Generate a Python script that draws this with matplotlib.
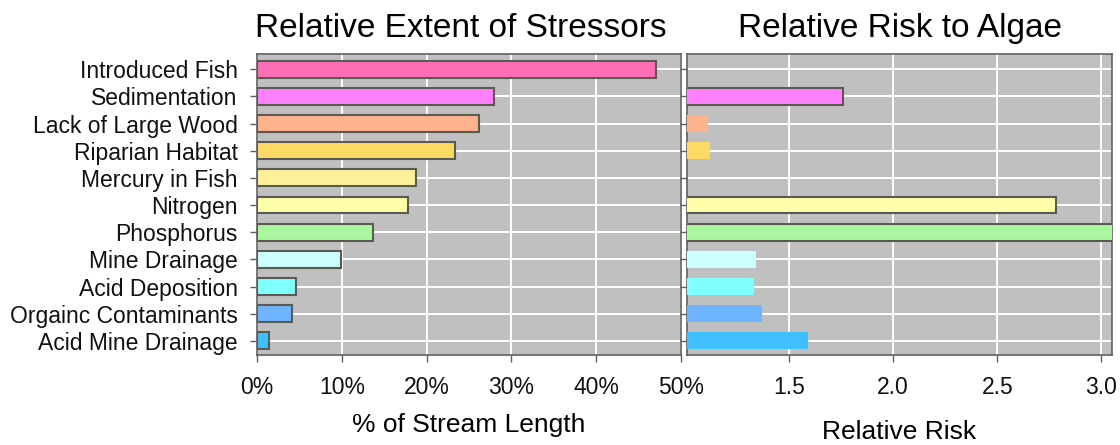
import numpy as np
import matplotlib
matplotlib.use("Agg")
import matplotlib.pyplot as plt

plt.rcParams['font.family'] = ['Liberation Sans', 'DejaVu Sans']

categories = ["Introduced Fish", "Sedimentation", "Lack of Large Wood", "Riparian Habitat",
              "Mercury in Fish", "Nitrogen", "Phosphorus", "Mine Drainage",
              "Acid Deposition", "Orgainc Contaminants", "Acid Mine Drainage"]
extent_pct = [47.0, 28.0, 26.2, 23.3, 18.8, 17.8, 13.7, 9.9, 4.6, 4.1, 1.4]
relative_risk = [np.nan, 1.76, 1.11, 1.12, np.nan, 2.78, 3.6, 1.34, 1.33, 1.37, 1.59]
extent_ticks = [0, 10, 20, 30, 40, 50]
extent_ticklabels = ["0%", "10%", "20%", "30%", "40%", "50%"]
risk_ticks = [1.5, 2.0, 2.5, 3.0]
risk_ticklabels = ["1.5", "2.0", "2.5", "3.0"]

colors = ["#FF6EB4", "#FF80FF", "#FFB38C", "#FFD966", "#FFF09A", "#FFFFAA",
          "#AAF7A0", "#CCFFFF", "#80FFFF", "#6EB4FF", "#40BFFF"]
risk_outlined = [False, True, False, False, False, True, True, False, False, False, False]

W, H = 1120, 445
fig = plt.figure(figsize=(W / 100, H / 100), dpi=100)
bottom = (H - 355) / H
height = (355 - 54) / H
ax1 = fig.add_axes([257 / W, bottom, (681 - 257) / W, height])
ax2 = fig.add_axes([687 / W, bottom, (1112 - 687) / W, height])

bg = "#C0C0C0"
spine_c = "#606060"
edge_c = "#5A5A52"
y = np.arange(len(categories))
bar_h = 0.62

for ax in (ax1, ax2):
    ax.set_facecolor(bg)
    ax.set_axisbelow(True)
    ax.grid(True, color="white", linewidth=1.4)
    for s in ax.spines.values():
        s.set_color(spine_c)
        s.set_linewidth(1.2)
    ax.tick_params(axis="both", direction="out", length=5, width=1, color=spine_c,
                   labelsize=16.5, labelcolor="#111111")
    ax.set_yticks(y)
    ax.set_ylim(len(categories) - 0.48, -0.56)

# Left panel
ax1.barh(y, extent_pct, height=bar_h, color=colors, edgecolor=edge_c, linewidth=1.5, zorder=3)
ax1.set_xlim(0, 50)
ax1.set_xticks(extent_ticks)
ax1.set_xticklabels(extent_ticklabels)
ax1.set_yticklabels(categories)
ax1.tick_params(axis="y", pad=9)
ax1.tick_params(axis="x", pad=10)
ax1.set_title("Relative Extent of Stressors", fontsize=24, pad=12, x=0.48)
ax1.set_xlabel("% of Stream Length", fontsize=19, labelpad=10)

# Right panel
base = 1.0
for yi, v, c, o in zip(y, relative_risk, colors, risk_outlined):
    if np.isnan(v):
        continue
    ax2.barh(yi, v - base, left=base, height=bar_h, color=c,
             edgecolor=edge_c if o else "none", linewidth=1.5 if o else 0, zorder=3)
ax2.set_xlim(1.01, 3.051)
ax2.set_xticks(risk_ticks)
ax2.set_xticklabels(risk_ticklabels)
ax2.set_yticklabels([])
ax2.tick_params(axis="x", pad=10)
ax2.set_title("Relative Risk to Algae", fontsize=24, pad=12)
ax2.set_xlabel("Relative Risk", fontsize=19, labelpad=15)

fig.savefig("out.png", dpi=100)
